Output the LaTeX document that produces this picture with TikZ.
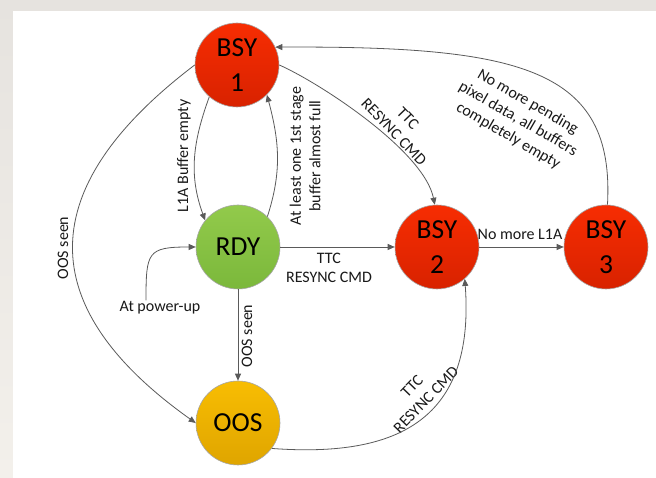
\documentclass[tikz,border=0pt]{standalone}
\usepackage{fontspec}
\setmainfont{Carlito}
\usetikzlibrary{arrows.meta}
\definecolor{bsytop}{HTML}{F72D02}
\definecolor{bsybot}{HTML}{D82200}
\definecolor{rdytop}{HTML}{92CA4B}
\definecolor{rdybot}{HTML}{7BB83B}
\definecolor{oostop}{HTML}{F8BD02}
\definecolor{oosbot}{HTML}{DFA500}
\definecolor{linegray}{HTML}{5A5A5A}
\definecolor{bgtop}{HTML}{E6E3DF}
\definecolor{bgbot}{HTML}{F3F0EB}
\begin{document}
\begin{tikzpicture}[x=1pt,y=1pt,
  state/.style={circle, draw=black!35, line width=0.6pt, minimum size=84pt,
    inner sep=0pt, align=center, font=\fontsize{27.5}{34.5}\selectfont},
  busy/.style={state, top color=bsytop, bottom color=bsybot},
  ready/.style={state, top color=rdytop, bottom color=rdybot},
  lost/.style={state, top color=oostop, bottom color=oosbot},
  edge/.style={draw=linegray, line width=0.8pt, -{Triangle[length=7pt,width=6pt]}},
  lbl/.style={font=\fontsize{16}{19.5}\selectfont, align=center, inner sep=1pt, text=black!90}
]
\useasboundingbox (0,0) rectangle (656,478);
% page backdrop and white sheet
\shade[top color=bgtop, bottom color=bgbot] (0,0) rectangle (656,478);
\fill[white] (13,0) rectangle (656,467);

% states
\node[busy]  (b1)  at (237,413) {BSY\\1};
\node[ready] (rdy) at (238,231) {RDY};
\node[lost]  (oos) at (238,55)  {OOS};
\node[busy]  (b2)  at (437,231) {BSY\\2};
\node[busy]  (b3)  at (606,231) {BSY\\3};

% transition labels
\node[lbl, rotate=90]  (lA) at (184,322) {L1A Buffer empty};
\node[lbl, rotate=90]  (lB) at (305,322) {At least one 1st stage\\buffer almost full};
\node[lbl, rotate=90]  (lC) at (63,230)  {OOS seen};
\node[lbl]             (lD) at (329,210) {TTC\\RESYNC CMD};
\node[lbl, rotate=-46] (lE) at (401,353) {TTC\\RESYNC CMD};
\node[lbl]             (lF) at (520,244) {No more L1A};
\node[lbl, rotate=-30] (lG) at (518,359) {No more pending\\pixel data, all buffers\\completely empty};
\node[lbl]             (pwr) at (160,170) {At power-up};
\node[lbl, rotate=90]  (lH) at (247,142) {OOS seen};
\node[lbl, rotate=46]  (lI) at (419,85)  {TTC\\RESYNC CMD};

% transitions
\draw[edge] (b1.229) to[out=250,in=110] (rdy.141);
\draw[edge] (rdy.46) to[out=72,in=285] (b1.-45);
\draw[edge] (b1.west) .. controls (34,291) and (31,172) .. (oos.west);
\draw[edge] (rdy.east) -- (b2.west);
\draw[edge] (b1.east) .. controls (320,395) and (424,327) .. (b2.93);
\draw[edge] (b2.east) -- (b3.west);
\draw[edge] (b3.88) .. controls (615,410) and (520,432) .. (b1.25);
\draw[edge] ([xshift=-14pt]pwr.north) to[out=90,in=180,looseness=1.7] (rdy.west);
\draw[edge] (rdy.south) -- (oos.north);
\draw[edge] (oos.-37) .. controls (400,20) and (475,60) .. (b2.-49);
\end{tikzpicture}
\end{document}
